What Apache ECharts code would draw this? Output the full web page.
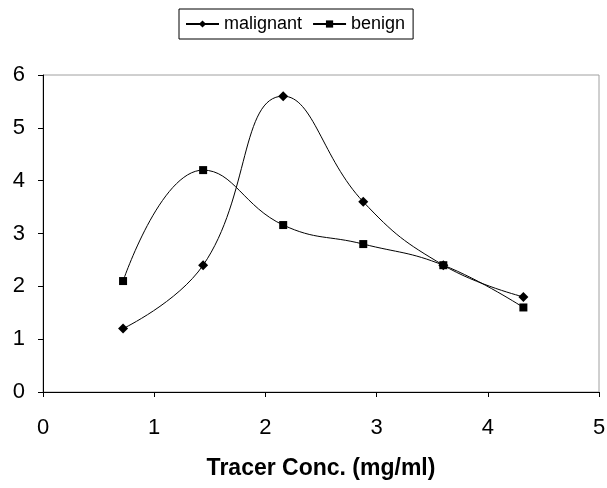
<!DOCTYPE html>
<html>
<head>
<meta charset="utf-8">
<script src="https://cdn.jsdelivr.net/npm/echarts@6/dist/echarts.min.js"></script>
<style>
  html, body { margin: 0; padding: 0; background: #fff; }
  #chart { width: 607px; height: 488px; }
</style>
</head>
<body>
<div id="chart"></div>
<script>
// tracer concentration (mg/ml)
var conc = [0.72, 1.44, 2.16, 2.88, 3.6, 4.32]
var malignant = [1.2, 2.4, 5.6, 3.6, 2.4, 1.8]
var benign = [2.1, 4.2, 3.16, 2.8, 2.4, 1.6]

function pairs (xs, ys) {
    return xs.map(function (x, i) { return [x, ys[i]] })
}

var chart = echarts.init(document.getElementById('chart'))
chart.setOption({
    animation: false,
    textStyle: { fontFamily: 'Liberation Sans, Arial, sans-serif' },
    grid: {
        left: 43,
        right: 8,
        top: 75,
        bottom: 96,
        outerBoundsMode: 'none',
        containLabel: false,
        show: true,
        borderColor: '#a0a0a0',
        borderWidth: 1
    },
    legend: {
        top: 9,
        left: 179,
        padding: [6, 8, 6, 6],
        itemGap: 10,
        itemWidth: 33,
        itemHeight: 9,
        borderColor: '#000',
        borderWidth: 1,
        textStyle: { fontSize: 18, color: '#000' },
        data: ['malignant', 'benign']
    },
    xAxis: {
        type: 'value',
        min: 0,
        max: 5,
        interval: 1,
        name: 'Tracer Conc. (mg/ml)',
        nameLocation: 'middle',
        nameGap: 65,
        nameTextStyle: { fontSize: 23, fontWeight: 'bold', color: '#000' },
        axisLine: { onZero: false, lineStyle: { color: '#000', width: 1 } },
        axisTick: { show: true, length: 5, lineStyle: { color: '#000' } },
        axisLabel: { fontSize: 22, color: '#000', margin: 25 },
        splitLine: { show: false }
    },
    yAxis: {
        type: 'value',
        min: 0,
        max: 6,
        interval: 1,
        axisLine: { show: true, lineStyle: { color: '#000', width: 1 } },
        axisTick: { show: true, length: 5, lineStyle: { color: '#000' } },
        axisLabel: { fontSize: 22, color: '#000', margin: 18 },
        splitLine: { show: false }
    },
    series: [
        {
            name: 'malignant',
            type: 'line',
            smooth: 0.45,
            symbol: 'diamond',
            symbolSize: 10,
            itemStyle: { color: '#000' },
            lineStyle: { color: '#000', width: 1 },
            data: pairs(conc, malignant)
        },
        {
            name: 'benign',
            type: 'line',
            smooth: 0.45,
            symbol: 'rect',
            symbolSize: 8,
            itemStyle: { color: '#000' },
            lineStyle: { color: '#000', width: 1 },
            data: pairs(conc, benign)
        }
    ]
})
</script>
</body>
</html>
